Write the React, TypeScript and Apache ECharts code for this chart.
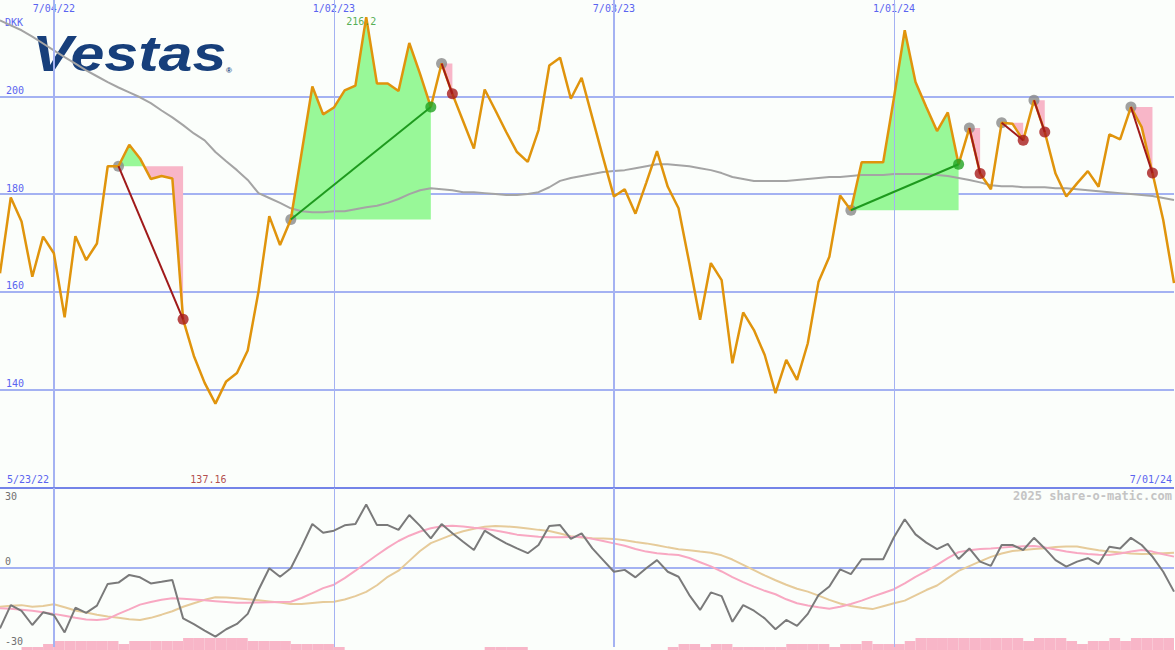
import React, { useEffect, useRef } from 'react';
import * as echarts from 'echarts';

// ---- Data (weekly, index 0 = first week shown) ----
const priceDKK = [
  163.8, 179.3, 174.4, 163.1, 171.3, 167.9, 154.8, 171.4, 166.5, 169.9,
  185.7, 185.7, 190.1, 187.3, 183.1, 183.7, 183.2, 154.4, 146.9, 141.4,
  137.16, 141.7, 143.4, 148.0, 160.1, 175.5, 169.6, 174.8, 188.4, 202.0,
  196.3, 197.7, 201.2, 202.2, 216.2, 202.6, 202.6, 201.1, 210.9, 204.6,
  197.8, 206.7, 200.5, 194.9, 189.3, 201.4, 197.1, 192.7, 188.6, 186.6,
  193.1, 206.3, 207.9, 199.5, 203.8, 195.6, 187.4, 179.5, 181.0, 176.0,
  182.3, 188.8, 181.5, 177.1, 165.9, 154.3, 165.9, 162.4, 145.4, 155.8,
  152.2, 147.1, 139.3, 146.1, 142.0, 149.5, 162.1, 167.2, 179.7, 176.7,
  186.5, 186.5, 186.5, 199.7, 213.5, 202.9, 197.8, 192.9, 196.7, 186.1,
  193.5, 184.2, 181.0, 194.6, 194.4, 191.0, 199.2, 192.7, 184.2, 179.5,
  182.2, 184.7, 181.5, 192.2, 191.2, 197.8, 193.7, 184.3, 174.7, 161.8,
];

const movingAvg = [
  215.5, 214.5, 213.5, 212.2, 210.8, 209.4, 208.0, 206.7, 205.3, 204.1,
  202.9, 201.8, 200.8, 199.8, 198.6, 197.1, 195.7, 194.1, 192.4, 191.0,
  188.6, 186.7, 184.9, 182.9, 180.2, 179.2, 178.2, 177.1, 176.5, 176.3,
  176.3, 176.5, 176.5, 176.9, 177.3, 177.6, 178.2, 179.0, 180.0, 180.8,
  181.2, 181.0, 180.8, 180.4, 180.4, 180.2, 180.0, 179.8, 179.8, 180.0,
  180.4, 181.4, 182.7, 183.3, 183.7, 184.1, 184.5, 184.7, 184.9, 185.3,
  185.7, 186.1, 186.1, 185.9, 185.7, 185.3, 184.9, 184.3, 183.5, 183.1,
  182.7, 182.7, 182.7, 182.7, 182.9, 183.1, 183.3, 183.5, 183.5, 183.7,
  183.9, 183.9, 183.9, 184.1, 184.1, 184.1, 184.1, 183.9, 183.7, 183.3,
  182.9, 182.4, 181.8, 181.6, 181.6, 181.4, 181.4, 181.4, 181.2, 181.2,
  181.0, 180.8, 180.6, 180.4, 180.2, 180.0, 179.8, 179.6, 179.2, 178.8,
];

const oscMain = [
  -23.0, -14.2, -16.4, -21.7, -16.9, -17.9, -24.5, -15.2, -17.1, -14.4,
  -6.2, -5.7, -2.8, -3.7, -6.0, -5.4, -4.7, -19.2, -21.4, -23.8,
  -26.1, -23.3, -21.3, -17.5, -8.5, -0.3, -3.5, -0.3, 7.8, 16.4,
  13.1, 13.9, 15.9, 16.4, 23.8, 16.0, 16.0, 14.2, 19.8, 15.7,
  11.0, 16.4, 12.9, 9.7, 6.6, 13.9, 11.4, 9.1, 7.2, 5.4,
  8.5, 15.7, 16.0, 10.8, 12.9, 7.2, 2.8, -1.6, -0.9, -3.7,
  -0.3, 2.8, -1.6, -3.5, -10.4, -16.0, -9.4, -10.8, -20.5, -14.2,
  -16.3, -19.2, -23.3, -19.8, -22.0, -17.5, -10.4, -7.2, -0.7, -2.5,
  3.1, 3.1, 3.1, 11.4, 18.2, 12.5, 9.4, 6.9, 8.9, 3.2,
  7.2, 2.2, 0.6, 8.5, 8.5, 6.6, 11.2, 7.2, 2.8, 0.3,
  2.2, 3.5, 1.3, 7.8, 7.2, 11.2, 8.5, 4.1, -1.6, -9.1,
];

const oscSignal = [
  -15.4, -15.6, -15.9, -16.3, -16.9, -17.5, -18.2, -19.0, -19.6, -19.8,
  -19.4, -17.5, -15.8, -14.0, -13.0, -12.2, -11.6, -11.8, -12.1, -12.4,
  -12.7, -13.0, -13.3, -13.3, -13.2, -13.1, -13.0, -12.9, -11.5, -9.7,
  -7.8, -6.5, -4.0, -1.2, 1.8, 4.7, 7.5, 10.0, 12.0, 13.6,
  14.8, 15.6, 15.8, 15.5, 15.0, 14.6, 14.0, 13.2, 12.4, 12.0,
  11.6, 11.4, 11.4, 11.5, 11.6, 10.8, 10.0, 9.1, 8.2, 7.0,
  6.0, 5.4, 5.0, 4.7, 3.6, 2.0, 0.4, -1.5, -3.6, -5.5,
  -7.2, -8.8, -10.1, -12.0, -13.5, -14.3, -15.0, -15.6, -14.8, -13.8,
  -12.5, -11.0, -9.6, -8.2, -6.0, -3.5, -1.4, 1.0, 3.5, 5.8,
  6.5, 7.0, 7.2, 7.5, 7.8, 8.0, 8.1, 7.6, 6.8, 6.0,
  5.5, 5.1, 4.8, 4.7, 5.3, 6.0, 6.6, 6.0, 5.0, 4.1,
];

const oscSlow = [
  -14.8, -14.4, -14.2, -14.8, -14.5, -13.9, -15.0, -16.2, -17.0, -17.8,
  -18.5, -19.0, -19.5, -19.8, -19.0, -17.8, -16.5, -14.8, -13.5, -12.2,
  -11.2, -11.3, -11.6, -12.0, -12.4, -12.8, -13.2, -13.8, -13.8, -13.4,
  -13.0, -12.9, -12.1, -10.8, -9.2, -6.7, -3.5, -1.2, 2.5, 6.2,
  9.2, 10.8, 12.4, 13.7, 14.6, 15.4, 15.7, 15.5, 15.2, 14.7,
  14.2, 13.8, 12.8, 11.8, 11.3, 11.0, 10.9, 10.8, 10.3, 9.6,
  9.1, 8.4, 7.6, 6.9, 6.5, 6.0, 5.6, 4.6, 3.0, 1.0,
  -1.0, -3.0, -4.8, -6.5, -8.0, -9.1, -10.6, -12.2, -13.6, -14.5,
  -15.2, -15.7, -14.6, -13.5, -12.5, -10.5, -8.5, -6.8, -4.0, -1.3,
  0.5, 2.3, 4.0, 5.3, 6.2, 6.6, 7.0, 7.3, 7.7, 7.9,
  7.9, 7.2, 6.5, 6.0, 5.7, 5.3, 5.1, 5.2, 5.4, 5.6,
];

const volumeLevel = [
  0, 0, 1, 1, 2, 3, 3, 3, 3, 3,
  3, 2, 3, 3, 3, 3, 3, 4, 4, 4,
  4, 4, 4, 3, 3, 3, 3, 2, 2, 2,
  2, 1, 0, 0, 0, 0, 0, 0, 0, 0,
  0, 0, 0, 0, 0, 1, 1, 1, 1, 0,
  0, 0, 0, 0, 0, 0, 0, 0, 0, 0,
  0, 0, 1, 2, 2, 1, 2, 2, 1, 1,
  1, 1, 1, 2, 2, 2, 2, 1, 2, 2,
  3, 2, 2, 2, 3, 4, 4, 4, 4, 4,
  4, 4, 4, 4, 4, 3, 4, 4, 4, 3,
  2, 3, 3, 4, 3, 4, 4, 4, 4, 0,
];

const tradeEntry = [11, 27, 41, 79, 90, 93, 96, 105];
const tradeExit = [17, 40, 42, 89, 91, 95, 97, 107];

const dateTickWeeks = [5, 31, 57, 83];
const dateTickLabels = ['7/04/22', '1/02/23', '7/03/23', '1/01/24'];
const startDateLabel = '5/23/22';
const endDateLabel = '7/01/24';
const currencyLabel = 'DKK';
const creditLabel = '2025 share-o-matic.com';

// ---- Styles ----
const MONO = '"DejaVu Sans Mono", "Liberation Mono", monospace';
const BLUE_TXT = '#5a64f0';
const GRID_LINE = '#a4b2f2';
const SEP_LINE = '#7484e8';
const BG = '#fbfefb';
const GREEN_FILL = '#98f898';
const PINK_FILL = '#f8b6c8';
const GAIN = '#1e9a1e';
const LOSS = '#a01a1a';

type Piece = { pts: number[][]; up: boolean };

function buildTradePieces(): Piece[] {
  const out: Piece[] = [];
  tradeEntry.forEach((s, k) => {
    const t = tradeExit[k];
    const e = priceDKK[s];
    const pts: number[][] = [];
    for (let i = s; i <= t; i++) {
      if (i > s) {
        const a = priceDKK[i - 1] - e;
        const b = priceDKK[i] - e;
        if (a * b < 0) pts.push([i - 1 + a / (a - b), e]);
      }
      pts.push([i, priceDKK[i]]);
    }
    let cur: number[][] = [pts[0]];
    const flush = () => {
      if (cur.length < 2) return;
      const nz = cur.find((p) => p[1] !== e);
      if (!nz) return;
      const last = cur[cur.length - 1];
      const poly = cur.slice();
      if (last[1] !== e) poly.push([last[0], e]);
      out.push({ pts: poly, up: nz[1] > e });
    };
    for (let j = 1; j < pts.length; j++) {
      cur.push(pts[j]);
      if (pts[j][1] === e && j < pts.length - 1) {
        flush();
        cur = [pts[j]];
      }
    }
    flush();
  });
  return out;
}

export default function App() {
  const ref = useRef<HTMLDivElement>(null);

  useEffect(() => {
    const chart = echarts.init(ref.current!, undefined, { renderer: 'svg' });
    const n = priceDKK.length;
    const pieces = buildTradePieces();
    let maxIdx = 0;
    let minIdx = 0;
    priceDKK.forEach((v, i) => {
      if (v > priceDKK[maxIdx]) maxIdx = i;
      if (v < priceDKK[minIdx]) minIdx = i;
    });
    const pairs = (arr: number[]) => arr.map((v, i) => [i, v]);
    const vLines = dateTickWeeks.map((w, i) => ({
      xAxis: w,
      lineStyle: { color: GRID_LINE, width: i % 2 === 0 ? 2 : 1, type: 'solid' },
    }));

    const option: any = {
      animation: false,
      backgroundColor: BG,
      textStyle: { fontFamily: MONO },
      grid: [
        { left: 0, right: 1, top: -1.5, height: 489, containLabel: false, outerBoundsMode: 'none' },
        { left: 0, right: 1, top: 488, height: 159, containLabel: false, outerBoundsMode: 'none' },
        { left: 0, right: 1, top: 487, height: 163, containLabel: false, outerBoundsMode: 'none' },
      ],
      xAxis: [
        {
          gridIndex: 0, type: 'value', min: 0, max: n - 1, position: 'top',
          axisLine: { show: false }, axisTick: { show: false }, splitLine: { show: false },
          axisLabel: {
            inside: true, customValues: dateTickWeeks, margin: 5,
            color: BLUE_TXT, fontFamily: MONO, fontSize: 10,
            formatter: (v: number) => {
              const i = dateTickWeeks.indexOf(Math.round(v));
              return i >= 0 ? dateTickLabels[i] : '';
            },
          },
        },
        { gridIndex: 1, type: 'value', min: 0, max: n - 1, show: false },
        { gridIndex: 2, type: 'value', min: 0, max: n - 1, show: false },
      ],
      yAxis: [
        {
          gridIndex: 0, type: 'value', min: 120, max: 220, interval: 20, position: 'left',
          axisLine: { show: false }, axisTick: { show: false },
          splitLine: { show: true, showMinLine: false, showMaxLine: false, lineStyle: { color: GRID_LINE, width: 2 } },
          axisLabel: {
            inside: true, showMinLabel: false, showMaxLabel: false, verticalAlign: 'bottom',
            margin: 6, color: BLUE_TXT, fontFamily: MONO, fontSize: 10, padding: [0, 0, 1, 0],
          },
        },
        {
          gridIndex: 1, type: 'value', min: -30, max: 30, interval: 30, position: 'left',
          axisLine: { show: false }, axisTick: { show: false },
          splitLine: { show: true, showMinLine: false, showMaxLine: false, lineStyle: { color: GRID_LINE, width: 2 } },
          axisLabel: {
            inside: true, verticalAlign: 'bottom', margin: 5, color: '#707070', fontFamily: MONO, fontSize: 10,
            padding: [0, 0, 1, 0],
            formatter: (v: number) => (v === 30 ? '' : String(v)),
          },
        },
        {
          gridIndex: 1, type: 'value', min: -30, max: 30, interval: 30, position: 'left', offset: 0,
          axisLine: { show: false }, axisTick: { show: false }, splitLine: { show: false },
          axisLabel: {
            inside: true, verticalAlign: 'top', margin: 5, color: '#707070', fontFamily: MONO, fontSize: 10,
            padding: [3, 0, 0, 0],
            formatter: (v: number) => (v === 30 ? '30' : ''),
          },
        },
        { gridIndex: 2, type: 'value', min: 0, max: 163 / 3, show: false },
      ],
      graphic: [
        {
          type: 'text', x: 32, y: 54, scaleX: 1.22, z: 0,
          style: {
            text: 'Vestas', fill: '#173f7b',
            font: 'italic bold 50px "Liberation Sans", Arial, sans-serif',
            verticalAlign: 'middle',
          },
        },
        {
          type: 'text', x: 226, y: 70, z: 0,
          style: { text: '®', fill: '#173f7b', font: 'bold 8px "Liberation Sans", sans-serif', verticalAlign: 'middle' },
        },
        {
          type: 'text', x: 5, y: 22, style: { text: currencyLabel, fill: BLUE_TXT, font: `10px ${MONO}`, verticalAlign: 'middle' },
        },
        {
          type: 'text', x: 7, y: 479, style: { text: startDateLabel, fill: BLUE_TXT, font: `10px ${MONO}`, verticalAlign: 'middle' },
        },
        {
          type: 'text', x: 1172, y: 479, style: { text: endDateLabel, fill: BLUE_TXT, font: `10px ${MONO}`, align: 'right', verticalAlign: 'middle' },
        },
        {
          type: 'text', x: 1172, y: 496,
          style: { text: creditLabel, fill: '#c4c4c4', font: `bold 12px ${MONO}`, align: 'right', verticalAlign: 'middle' },
        },
      ],
      series: [
        {
          type: 'line', xAxisIndex: 0, yAxisIndex: 0, data: [], z: 1, silent: true,
          markLine: {
            silent: true, symbol: ['none', 'none'], label: { show: false }, animation: false,
            data: [...vLines, { yAxis: 120, lineStyle: { color: SEP_LINE, width: 2, type: 'solid' } }],
          },
        },
        {
          type: 'custom', xAxisIndex: 0, yAxisIndex: 0, z: 2, silent: true,
          data: pieces.map((p) => p.pts[0]),
          renderItem: (params: any, api: any) => {
            const pc = pieces[params.dataIndex];
            return {
              type: 'polygon',
              shape: { points: pc.pts.map((p) => api.coord(p)) },
              style: { fill: pc.up ? GREEN_FILL : PINK_FILL },
            };
          },
        },
        {
          type: 'line', xAxisIndex: 0, yAxisIndex: 0, z: 3, data: pairs(movingAvg),
          symbol: 'none', lineStyle: { color: '#a4a4a4', width: 2 },
        },
        {
          type: 'scatter', xAxisIndex: 0, yAxisIndex: 0, z: 4, symbolSize: 11,
          itemStyle: { color: '#8a8a8a' },
          data: tradeEntry.map((s) => [s, priceDKK[s]]),
        },
        {
          type: 'line', xAxisIndex: 0, yAxisIndex: 0, z: 5, data: pairs(priceDKK),
          symbol: 'none', lineStyle: { color: '#e0940c', width: 2.5 },
        },
        {
          type: 'custom', xAxisIndex: 0, yAxisIndex: 0, z: 6, silent: true,
          data: tradeEntry.map((s, k) => [s, priceDKK[s], tradeExit[k], priceDKK[tradeExit[k]]]),
          encode: { x: 0, y: 1 },
          renderItem: (params: any, api: any) => {
            const p1 = api.coord([api.value(0), api.value(1)]);
            const p2 = api.coord([api.value(2), api.value(3)]);
            return {
              type: 'line',
              shape: { x1: p1[0], y1: p1[1], x2: p2[0], y2: p2[1] },
              style: { stroke: api.value(3) > api.value(1) ? GAIN : LOSS, lineWidth: 2 },
            };
          },
        },
        {
          type: 'scatter', xAxisIndex: 0, yAxisIndex: 0, z: 7, symbolSize: 11,
          data: tradeExit.map((t, k) => ({
            value: [t, priceDKK[t]],
            itemStyle: { color: priceDKK[t] > priceDKK[tradeEntry[k]] ? '#22a322' : '#a81c1c' },
          })),
        },
        {
          type: 'scatter', xAxisIndex: 0, yAxisIndex: 0, z: 8, symbolSize: 0.1,
          itemStyle: { color: 'rgba(0,0,0,0)' },
          label: {
            show: true, position: 'inside', offset: [-5, 4], color: '#2a9a2a', fontFamily: MONO, fontSize: 10,
            formatter: () => String(priceDKK[maxIdx]),
          },
          data: [[maxIdx, priceDKK[maxIdx]]],
        },
        {
          type: 'scatter', xAxisIndex: 0, yAxisIndex: 0, z: 8, symbolSize: 0.1,
          itemStyle: { color: 'rgba(0,0,0,0)' },
          label: {
            show: true, position: 'inside', offset: [-7, -8.5], color: '#a02020', fontFamily: MONO, fontSize: 10,
            formatter: () => String(priceDKK[minIdx]),
          },
          data: [[minIdx, 120]],
        },
        // ---- lower panel ----
        {
          type: 'custom', xAxisIndex: 2, yAxisIndex: 3, z: 1, silent: true,
          data: volumeLevel.map((v, i) => [i, v]),
          renderItem: (params: any, api: any) => {
            const x0 = api.value(0);
            const v = api.value(1);
            if (!v) return null;
            const a = api.coord([x0, v]);
            const b = api.coord([x0 + 1, 0]);
            return {
              type: 'rect',
              shape: { x: a[0], y: a[1], width: b[0] - a[0], height: b[1] - a[1] },
              style: { fill: PINK_FILL },
            };
          },
        },
        {
          type: 'line', xAxisIndex: 1, yAxisIndex: 1, data: [], z: 2, silent: true,
          markLine: { silent: true, symbol: ['none', 'none'], label: { show: false }, animation: false, data: vLines },
        },
        {
          type: 'line', xAxisIndex: 1, yAxisIndex: 1, z: 3, data: pairs(oscSlow),
          symbol: 'none', lineStyle: { color: '#e6cb9a', width: 2 },
        },
        {
          type: 'line', xAxisIndex: 1, yAxisIndex: 1, z: 4, data: pairs(oscSignal),
          symbol: 'none', lineStyle: { color: '#f8a8c2', width: 2 },
        },
        {
          type: 'line', xAxisIndex: 1, yAxisIndex: 1, z: 5, data: pairs(oscMain),
          symbol: 'none', lineStyle: { color: '#7a7a7a', width: 2 },
        },
      ],
    };

    chart.setOption(option);
    return () => chart.dispose();
  }, []);

  return (
    <div
      ref={ref}
      style={{ position: 'fixed', left: 0, top: 0, width: 1175, height: 650 }}
    />
  );
}
